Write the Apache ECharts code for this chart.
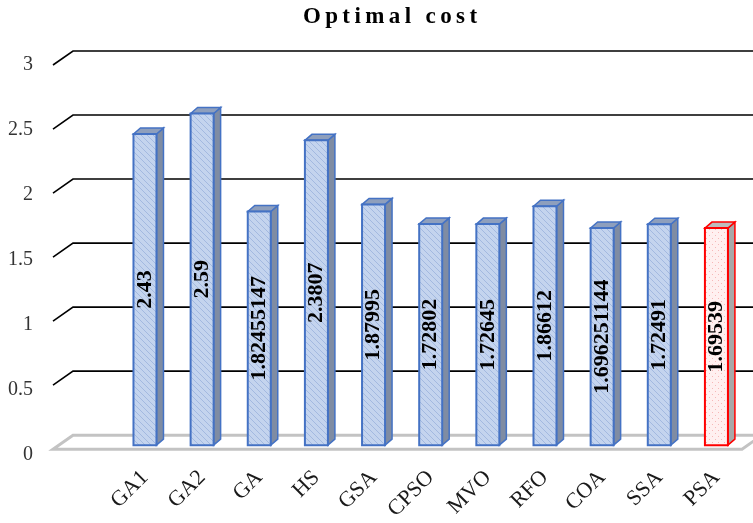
<!DOCTYPE html>
<html>
<head>
<meta charset="utf-8">
<script src="https://cdn.jsdelivr.net/npm/echarts@6/dist/echarts.min.js"></script>
<style>
html, body { margin: 0; padding: 0; background: #fff; }
#main { width: 753px; height: 523px; }
</style>
</head>
<body>
<div id="main"></div>
<script>
// 数据
var categories = ['GA1', 'GA2', 'GA', 'HS', 'GSA', 'CPSO', 'MVO', 'RFO', 'COA', 'SSA', 'PSA'];
var costValues = [2.43, 2.59, 1.82455147, 2.3807, 1.87995, 1.72802, 1.72645, 1.86612, 1.696251144, 1.72491, 1.69539];
var costLabels = ['2.43', '2.59', '1.82455147', '2.3807', '1.87995', '1.72802', '1.72645', '1.86612', '1.696251144', '1.72491', '1.69539'];
var yTicks = [0, 0.5, 1, 1.5, 2, 2.5, 3];
var titleText = 'Optimal cost';

// 填充图案
function makePattern(bg, fg, dots) {
    var c = document.createElement('canvas');
    c.width = 6; c.height = 6;
    var ctx = c.getContext('2d');
    ctx.fillStyle = bg;
    ctx.fillRect(0, 0, 6, 6);
    ctx.fillStyle = fg;
    ctx.strokeStyle = fg;
    if (dots) {
        ctx.fillRect(1, 1, 1, 1);
        ctx.fillRect(4, 4, 1, 1);
    } else {
        ctx.lineWidth = 1;
        ctx.beginPath();
        ctx.moveTo(0, 0); ctx.lineTo(6, 6);
        ctx.moveTo(-3, 3); ctx.lineTo(3, 9);
        ctx.moveTo(3, -3); ctx.lineTo(9, 3);
        ctx.stroke();
    }
    return { image: c, repeat: 'repeat' };
}
var bluePattern = makePattern('#c4d4ee', '#a3b9e0', false);
var redPattern = makePattern('#fff0f0', '#f6b8b8', true);

var SERIF = '"Liberation Serif", "Times New Roman", serif';
var depthX = 7, depthY = -6, barW = 23;
var wallX = 53, wallDX = 20, wallDY = -14;

var chart = echarts.init(document.getElementById('main'));

var option = {
    animation: false,
    title: {
        // 字间距用 rich 的 padding 模拟
        text: titleText.split('').map(function (c) { return '{s|' + c + '}'; }).join(''),
        left: 385,
        top: 1,
        textAlign: 'center',
        textStyle: {
            fontFamily: SERIF,
            fontWeight: 'bold',
            fontSize: 23,
            color: '#000',
            rich: {
                s: { fontFamily: SERIF, fontWeight: 'bold', fontSize: 23, color: '#000', padding: [0, 2.2, 0, 2.2] }
            }
        }
    },
    grid: [
        { left: 116.4, right: 8, top: 61, bottom: 72 },
        { left: wallX, right: 8, top: 65, bottom: 68 }
    ],
    xAxis: [
        {
            type: 'category',
            gridIndex: 0,
            data: categories,
            axisLine: { show: false },
            axisTick: { show: false },
            axisLabel: {
                rotate: 45,
                margin: 29,
                interval: 0,
                fontFamily: SERIF,
                fontSize: 22,
                color: '#1a1a1a'
            }
        },
        { type: 'category', gridIndex: 1, show: false, data: categories }
    ],
    yAxis: [
        {
            type: 'value', gridIndex: 0, min: 0, max: 3, interval: 0.5,
            axisLine: { show: false }, axisTick: { show: false },
            axisLabel: { show: false }, splitLine: { show: false }
        },
        {
            type: 'value', gridIndex: 1, min: 0, max: 3, interval: 0.5,
            axisLine: { show: false }, axisTick: { show: false },
            splitLine: { show: false },
            axisLabel: { margin: 20, fontFamily: SERIF, fontSize: 20, color: '#333' }
        }
    ],
    series: [
        {
            // 网格线 + 底面
            type: 'custom',
            xAxisIndex: 0,
            yAxisIndex: 0,
            z: 1,
            silent: true,
            data: yTicks.map(function (v) { return [0, v]; }),
            encode: { x: 0, y: 1 },
            renderItem: function (params, api) {
                var v = api.value(1);
                var y = api.coord([0, v])[1];
                var fy = y + 4, by = fy + wallDY;
                if (v === 0) {
                    var right = params.coordSys.x + params.coordSys.width - 3;
                    return {
                        type: 'polygon',
                        shape: { points: [[wallX, fy], [wallX + wallDX, by], [right + wallDX, by], [right, fy]] },
                        style: { fill: '#fff', stroke: '#c3c3c3', lineWidth: 3 }
                    };
                }
                return {
                    type: 'polyline',
                    shape: { points: [[wallX, fy], [wallX + wallDX, by], [800, by]] },
                    style: { fill: null, stroke: '#000', lineWidth: 1.6 }
                };
            }
        },
        {
            // 柱子
            type: 'custom',
            xAxisIndex: 0,
            yAxisIndex: 0,
            z: 2,
            data: costValues.map(function (v, i) { return [i, v]; }),
            encode: { x: 0, y: 1 },
            renderItem: function (params, api) {
                var i = api.value(0);
                var top = api.coord([i, api.value(1)]);
                var base = api.coord([i, 0]);
                var x0 = top[0] - barW / 2, x1 = x0 + barW;
                var t = top[1], b = base[1];
                var last = i === categories.length - 1;
                var edge = last ? '#ff0000' : '#4472c4';
                return {
                    type: 'group',
                    children: [
                        {
                            type: 'polygon',
                            shape: { points: [[x1, t], [x1 + depthX, t + depthY], [x1 + depthX, b + depthY], [x1, b]] },
                            style: { fill: last ? '#a8a8a8' : '#7f8ca3', stroke: edge, lineWidth: 1.5 }
                        },
                        {
                            type: 'polygon',
                            shape: { points: [[x0, t], [x0 + depthX, t + depthY], [x1 + depthX, t + depthY], [x1, t]] },
                            style: { fill: last ? '#bdbdbd' : '#8e9fbd', stroke: edge, lineWidth: 1.5 }
                        },
                        {
                            type: 'rect',
                            shape: { x: x0, y: t, width: barW, height: b - t },
                            style: { fill: last ? redPattern : bluePattern, stroke: edge, lineWidth: 2 }
                        },
                        {
                            type: 'text',
                            x: top[0],
                            y: (t + b) / 2,
                            rotation: Math.PI / 2,
                            style: {
                                text: costLabels[i],
                                fill: '#000',
                                font: 'bold 22px ' + SERIF,
                                align: 'center',
                                verticalAlign: 'middle'
                            }
                        }
                    ]
                };
            }
        }
    ]
};
chart.setOption(option);
</script>
</body>
</html>
